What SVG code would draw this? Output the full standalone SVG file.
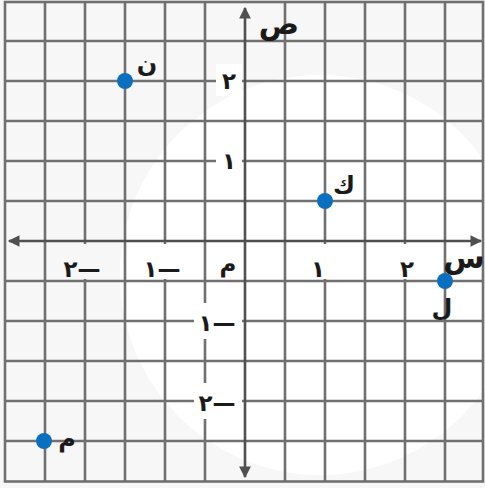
<svg xmlns="http://www.w3.org/2000/svg" width="485" height="488" viewBox="0 0 485 488">
<defs>
<style>
.g{stroke:#707070;stroke-width:2.6;fill:none}
.ax{stroke:#505050;stroke-width:2.6;fill:none}
.pt{fill:#0b6fc0}
.lb{font-family:"DejaVu Sans",sans-serif;font-size:24px;font-weight:bold;fill:#1a1a1a;text-anchor:middle}
.ax-lb{font-family:"DejaVu Sans",sans-serif;font-size:30px;font-weight:bold;fill:#1a1a1a;text-anchor:middle}
.num{font-family:"DejaVu Sans",sans-serif;font-size:23px;font-weight:bold;fill:#1a1a1a;text-anchor:middle}
.wb{fill:#ffffff}
.gb{fill:#f7f7f7}
</style>
<marker id="ah" viewBox="0 0 10 10" refX="9" refY="5" markerWidth="5.5" markerHeight="4.5" orient="auto-start-reverse" markerUnits="strokeWidth">
<path d="M0,0 L10,5 L0,10 z" fill="#505050"/>
</marker>
</defs>
<rect x="0" y="0" width="485" height="488" fill="#f7f7f7"/>
<circle cx="320" cy="275" r="200" fill="#ffffff"/>
<g id="grid">
<path class="g" d="M45,1V481M85,1V481M125,1V481M165,1V481M205,1V481M285,1V481M325,1V481M365,1V481M405,1V481M445,1V481"/>
<path class="g" d="M5,41H483M5,81H483M5,121H483M5,161H483M5,201H483M5,281H483M5,321H483M5,361H483M5,401H483M5,441H483"/>
<rect x="5" y="2" width="478" height="479.5" class="g"/>
</g>
<g id="label-backgrounds">
<rect class="gb" x="58" y="244" width="50" height="35"/>
<rect class="wb" x="138" y="244" width="50" height="35"/>
<rect class="wb" x="208" y="244" width="34" height="35"/>
<rect class="wb" x="306" y="244" width="34" height="35"/>
<rect class="wb" x="394" y="244" width="28" height="35"/>
<rect class="wb" x="216" y="64" width="26" height="32"/>
<rect class="wb" x="216" y="144" width="26" height="32"/>
<rect class="wb" x="194" y="303" width="48" height="36"/>
<rect class="wb" x="194" y="383" width="48" height="36"/>
</g>
<g id="connectors">
<line class="ax" x1="9" y1="241" x2="481" y2="241" marker-start="url(#ah)" marker-end="url(#ah)"/>
<line class="ax" x1="245" y1="8" x2="245" y2="477" marker-start="url(#ah)" marker-end="url(#ah)"/>
</g>
<g id="ticks">
<text class="num" x="229" y="89">٢</text>
<text class="num" x="229" y="169">١</text>
<text class="num" x="82" y="277" direction="ltr" unicode-bidi="bidi-override">٢—</text>
<text class="num" x="162" y="277" direction="ltr" unicode-bidi="bidi-override">١—</text>
<text class="num" x="228" y="272">م</text>
<text class="num" x="318" y="277">١</text>
<text class="num" x="407" y="277">٢</text>
<text class="num" x="217" y="331" direction="ltr" unicode-bidi="bidi-override">١—</text>
<text class="num" x="217" y="411" direction="ltr" unicode-bidi="bidi-override">٢—</text>
</g>
<g id="axis-y-label"><text class="ax-lb" x="279" y="34">ص</text></g>
<g id="axis-x-label"><text class="ax-lb" x="464" y="268">س</text></g>
<g id="point-N"><circle class="pt" cx="125" cy="81" r="8"/><text class="lb" x="147" y="72">ن</text></g>
<g id="point-K"><circle class="pt" cx="325" cy="201" r="8"/><text class="lb" x="344" y="193">ك</text></g>
<g id="point-L"><circle class="pt" cx="445" cy="281" r="8"/><text class="lb" x="442" y="316">ل</text></g>
<g id="point-M"><circle class="pt" cx="44" cy="441" r="8"/><text class="lb" x="67" y="447">م</text></g>
</svg>
